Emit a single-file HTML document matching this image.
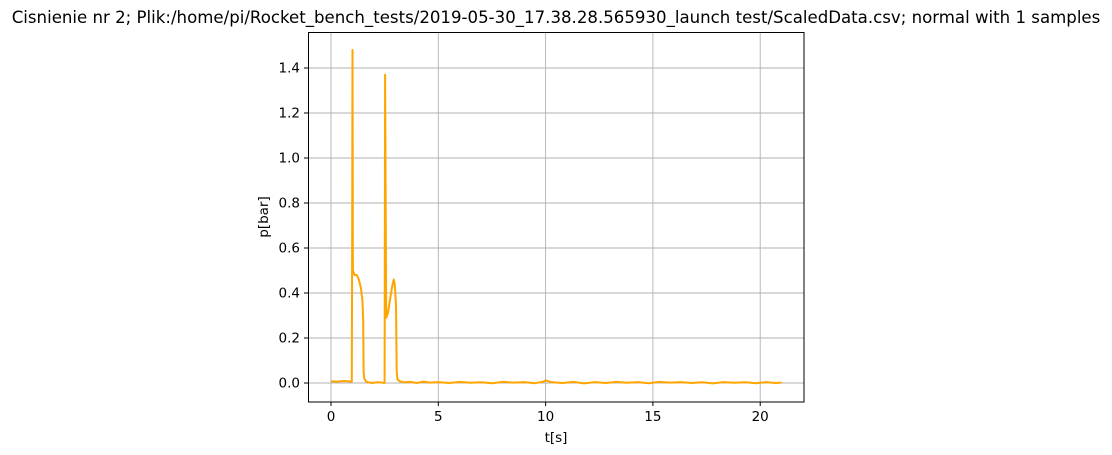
<!DOCTYPE html>
<html><head><meta charset="utf-8"><style>
body{margin:0;background:#fff;}
svg{display:block;font-family:"DejaVu Sans","Liberation Sans",sans-serif;}
</style></head><body>
<svg id="chart" width="1112" height="455">
<text x="556" y="23" font-size="16.6" text-anchor="middle">Cisnienie nr 2; Plik:/home/pi/Rocket_bench_tests/2019-05-30_17.38.28.565930_launch test/ScaledData.csv; normal with 1 samples</text>
<g id="grid"></g><g id="series"></g>
<rect x="308.5" y="32.5" width="495.5" height="369.5" fill="none" stroke="#000" stroke-width="1"/>
<g id="axes"></g>
<text x="556" y="442" font-size="13.5" text-anchor="middle">t[s]</text>
<text x="268" y="217" font-size="13.5" text-anchor="middle" transform="rotate(-90 268 217)">p[bar]</text>
</svg>
<script>
const xTicks=[0,5,10,15,20];
const yTicks=[0.0,0.2,0.4,0.6,0.8,1.0,1.2,1.4];
const times=[0,0.3,0.6,0.97,0.99,1.0,1.02,1.1,1.2,1.3,1.4,1.47,1.5,1.52,1.55,1.65,1.9,2.2,2.5,2.51,2.52,2.57,2.65,2.75,2.85,2.92,2.97,3.03,3.06,3.1,3.2,3.4,3.7,4.0,4.3,4.6,5.0,5.5,6.0,6.5,7.0,7.5,8.0,8.5,9.0,9.5,9.9,10.0,10.3,10.8,11.3,11.8,12.3,12.8,13.3,13.8,14.3,14.8,15.3,15.8,16.3,16.8,17.3,17.8,18.3,18.8,19.3,19.8,20.3,20.7,21.0];
const pressure=[0.008,0.006,0.009,0.006,0.7,1.48,0.5,0.48,0.48,0.46,0.42,0.36,0.28,0.05,0.02,0.005,0.0,0.004,0.0,0.8,1.37,0.29,0.31,0.37,0.43,0.46,0.44,0.35,0.05,0.015,0.008,0.003,0.005,0.0,0.006,0.002,0.004,0.0,0.005,0.001,0.003,-0.001,0.005,0.002,0.004,-0.001,0.006,0.012,0.003,0.0,0.005,-0.002,0.004,0.0,0.005,0.001,0.004,-0.001,0.005,0.002,0.004,0.0,0.003,-0.002,0.004,0.001,0.003,-0.001,0.004,0.0,0.002];
const NS='http://www.w3.org/2000/svg';
const xs=t=>331+t*21.46, ys=v=>383-v*225;
const grid=document.getElementById('grid'),axes=document.getElementById('axes'),ser=document.getElementById('series');
function mk(tag,at,parent){const e=document.createElementNS(NS,tag);for(const k in at)e.setAttribute(k,at[k]);parent.appendChild(e);return e;}
xTicks.forEach(t=>{const x=xs(t);
 const g=mk('line',{x1:x,x2:x,y1:32,y2:402,stroke:'#b0b0b0','stroke-width':0.9},grid);
 
 
 mk('line',{x1:x,x2:x,y1:402,y2:406,stroke:'#000'},axes);
 const l=mk('text',{x:x,y:421,'font-size':13.5,'text-anchor':'middle'},axes);l.textContent=t;
 
 
});
yTicks.forEach(v=>{const y=ys(v);
 const g=mk('line',{x1:308,x2:804,y1:y,y2:y,stroke:'#b0b0b0','stroke-width':0.9},grid);
 
 
 mk('line',{x1:304,x2:308,y1:y,y2:y,stroke:'#000'},axes);
 const l=mk('text',{x:300,y:y+4.5,'font-size':13.5,'text-anchor':'end'},axes);l.textContent=v.toFixed(1);
 
 
});
const d=times.map((t,i)=>(i?'L':'M')+xs(t).toFixed(1)+','+ys(pressure[i]).toFixed(1)).join('');
const p=mk('path',{d:d,fill:'none',stroke:'#ffa500','stroke-width':2,'stroke-linejoin':'round'},ser);


</script>
</body></html>
